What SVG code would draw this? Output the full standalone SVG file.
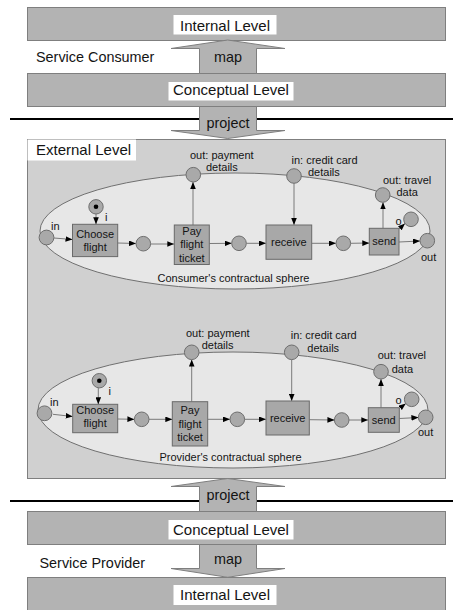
<svg xmlns="http://www.w3.org/2000/svg" width="453" height="610" viewBox="0 0 453 610">
  <style>
    text { font-family: "Liberation Sans", Arial, sans-serif; fill: #141414; }
    .bar { fill: #b3b3b3; stroke: #7f7f7f; stroke-width: 1; }
    .lbl { fill: #ffffff; stroke: none; }
    .big { font-size: 15px; text-anchor: middle; }
    .side { font-size: 14.4px; }
    .arr { fill: #b3b3b3; stroke: #7f7f7f; stroke-width: 1; }
    .arrtxt { font-size: 14.4px; text-anchor: middle; }
    .ext { fill: #d0d0d0; stroke: #7f7f7f; stroke-width: 1; }
    .sphere { fill: #e7e7e7; stroke: #707070; stroke-width: 1; }
    .place { fill: #a9a9a9; stroke: #6e6e6e; stroke-width: 1; }
    .trans { fill: #a8a8a8; stroke: #6a6a6a; stroke-width: 1; }
    .t { font-size: 11px; }
    .tc { font-size: 11px; text-anchor: middle; }
    .edge { stroke: #7a7a7a; stroke-width: 1; fill: none; marker-end: url(#head); }
  </style>
  <defs>
    <marker id="head" viewBox="0 0 10 8" refX="10" refY="4" markerWidth="7" markerHeight="5.6" markerUnits="userSpaceOnUse" orient="auto">
      <path d="M0,0 L10,4 L0,8 z" fill="#000"/>
    </marker>
  </defs>

  <rect width="453" height="610" fill="#ffffff"/>

  <!-- consumer side levels -->
  <g id="consumer-internal">
    <rect class="bar" x="27.5" y="7.5" width="418" height="33"/>
    <rect class="lbl" x="173.5" y="15" width="103" height="19.5"/>
    <text class="big" x="225" y="30.5">Internal Level</text>
  </g>
  <text class="side" x="36" y="62">Service Consumer</text>
  <g id="consumer-conceptual">
    <rect class="bar" x="27.5" y="73.5" width="418" height="33"/>
    <rect class="lbl" x="168.5" y="82" width="125" height="18.5"/>
    <text class="big" x="231" y="95">Conceptual Level</text>
  </g>

  <!-- provider side levels -->
  <g id="provider-conceptual">
    <rect class="bar" x="27.5" y="511.5" width="418" height="33"/>
    <rect class="lbl" x="168.5" y="520" width="125" height="19.5"/>
    <text class="big" x="231" y="534.5">Conceptual Level</text>
  </g>
  <text class="side" x="39.5" y="567.5">Service Provider</text>
  <g id="provider-internal">
    <rect class="bar" x="27.5" y="577.5" width="418" height="40"/>
    <rect class="lbl" x="173.5" y="585" width="103" height="20"/>
    <text class="big" x="225" y="600">Internal Level</text>
  </g>

  <!-- boundary lines -->
  <line x1="10" y1="119" x2="453" y2="119" stroke="#000" stroke-width="2"/>
  <line x1="10" y1="501" x2="453" y2="501" stroke="#000" stroke-width="2"/>

  <!-- external level -->
  <g id="external-level">
    <rect class="ext" x="27.5" y="139.5" width="418" height="339"/>
    <rect class="lbl" x="27.5" y="139.5" width="108.5" height="21"/>
    <text x="36" y="155" style="font-size:15px">External Level</text>
  </g>

  <!-- level transition arrows -->
  <g id="map-consumer">
    <polygon class="arr" points="199.5,73.5 199.5,48.5 171,48.5 227.7,40 285,48.5 256.5,48.5 256.5,73.5"/>
    <text class="arrtxt" x="228" y="62">map</text>
  </g>
  <g id="project-consumer">
    <polygon class="arr" points="199.5,106.5 199.5,130.5 171,130.5 227.7,138.5 285,130.5 256.5,130.5 256.5,106.5"/>
    <text class="arrtxt" x="228" y="127.5">project</text>
  </g>
  <g id="project-provider">
    <polygon class="arr" points="199.5,511.5 199.5,486.5 171,486.5 227.7,478.5 285,486.5 256.5,486.5 256.5,511.5"/>
    <text class="arrtxt" x="228" y="500">project</text>
  </g>
  <g id="map-provider">
    <polygon class="arr" points="199.5,544.5 199.5,568.5 171,568.5 227.7,577.3 285,568.5 256.5,568.5 256.5,544.5"/>
    <text class="arrtxt" x="228" y="564">map</text>
  </g>

  <!-- consumer's contractual sphere -->
  <g id="consumer-sphere">
    <ellipse class="sphere" cx="235" cy="231" rx="195" ry="58"/>
    <text class="tc" x="233.5" y="282">Consumer's contractual sphere</text>
  </g>

  <!-- provider's contractual sphere -->
  <g id="provider-sphere">
    <ellipse class="sphere" cx="233" cy="410" rx="195" ry="58"/>
    <text class="tc" x="230.5" y="461">Provider's contractual sphere</text>
  </g>

  <!-- connectors -->
  <g id="connectors">
    <!-- consumer net -->
    <line class="edge" x1="54" y1="238" x2="72.5" y2="239.5"/>
    <line class="edge" x1="96" y1="214" x2="96" y2="224.3"/>
    <line class="edge" x1="117.7" y1="243" x2="136" y2="243.5"/>
    <line class="edge" x1="150.6" y1="244" x2="174.3" y2="244"/>
    <line class="edge" x1="193" y1="225" x2="193" y2="182"/>
    <line class="edge" x1="209.3" y1="243.5" x2="231.7" y2="243.3"/>
    <line class="edge" x1="246.3" y1="243.3" x2="266" y2="243.3"/>
    <line class="edge" x1="294" y1="183.3" x2="294" y2="225"/>
    <line class="edge" x1="311.7" y1="243.3" x2="336" y2="243.3"/>
    <line class="edge" x1="350.6" y1="243.3" x2="369.3" y2="243"/>
    <line class="edge" x1="383" y1="228.3" x2="383" y2="202.3"/>
    <line class="edge" x1="399" y1="229" x2="405" y2="223.5"/>
    <line class="edge" x1="399" y1="242" x2="420" y2="241"/>
    <!-- provider net -->
    <line class="edge" x1="53" y1="414.3" x2="72.7" y2="416.5"/>
    <line class="edge" x1="98.3" y1="388" x2="98.3" y2="404.3"/>
    <line class="edge" x1="117.7" y1="419" x2="134.4" y2="419.3"/>
    <line class="edge" x1="149" y1="419.3" x2="172.3" y2="419.3"/>
    <line class="edge" x1="191.7" y1="401.7" x2="191.7" y2="359.6"/>
    <line class="edge" x1="207.7" y1="419.3" x2="230" y2="419.3"/>
    <line class="edge" x1="244.6" y1="419.3" x2="266" y2="419.3"/>
    <line class="edge" x1="291.7" y1="359.6" x2="291.7" y2="401"/>
    <line class="edge" x1="309.3" y1="419.7" x2="334.4" y2="420"/>
    <line class="edge" x1="349" y1="420" x2="368.3" y2="420"/>
    <line class="edge" x1="381" y1="407.7" x2="381" y2="379"/>
    <line class="edge" x1="399.3" y1="408.5" x2="405.8" y2="403.6"/>
    <line class="edge" x1="399.3" y1="418.5" x2="418.4" y2="417.5"/>
  </g>

  <!-- consumer places -->
  <g id="c-in"><circle class="place" cx="46.5" cy="237.5" r="7.4"/><text class="t" x="51" y="229.5">in</text></g>
  <g id="c-i"><circle class="place" cx="96" cy="206.8" r="7.2"/><circle cx="96" cy="206.8" r="2.3" fill="#000"/><text class="t" x="105" y="220.5">i</text></g>
  <g id="c-p1"><circle class="place" cx="143.3" cy="243.7" r="7.3"/></g>
  <g id="c-pay-out"><circle class="place" cx="193.3" cy="174.7" r="7.3"/><text class="t" x="190" y="159">out: payment</text><text class="t" x="206" y="171">details</text></g>
  <g id="c-p2"><circle class="place" cx="239" cy="243.3" r="7.3"/></g>
  <g id="c-card-in"><circle class="place" cx="294" cy="176" r="7.3"/><text class="t" x="291.5" y="163.5">in: credit card</text><text class="t" x="308" y="176">details</text></g>
  <g id="c-p3"><circle class="place" cx="343.3" cy="243.3" r="7.3"/></g>
  <g id="c-travel-out"><circle class="place" cx="382.7" cy="195" r="7.3"/><text class="t" x="383" y="183.5">out: travel</text><text class="t" x="396.5" y="196">data</text></g>
  <g id="c-o"><circle class="place" cx="411" cy="219.3" r="7.3"/><text class="t" x="395.5" y="225">o</text></g>
  <g id="c-out"><circle class="place" cx="427.3" cy="240.7" r="7.3"/><text class="t" x="421" y="261">out</text></g>

  <!-- consumer transitions -->
  <g id="c-choose"><rect class="trans" x="72.5" y="224.3" width="45.2" height="32.3"/><text class="tc" x="95.1" y="238">Choose</text><text class="tc" x="95.1" y="250.7">flight</text></g>
  <g id="c-pay"><rect class="trans" x="174.3" y="225" width="35" height="39.5"/><text class="tc" x="191.8" y="235">Pay</text><text class="tc" x="191.8" y="248.3">flight</text><text class="tc" x="191.8" y="261.5">ticket</text></g>
  <g id="c-receive"><rect class="trans" x="266" y="225" width="45.7" height="34.3"/><text class="tc" x="288.8" y="245.5">receive</text></g>
  <g id="c-send"><rect class="trans" x="369.3" y="228.3" width="29.7" height="26.7"/><text class="tc" x="384.2" y="244.5">send</text></g>

  <!-- provider places -->
  <g id="p-in"><circle class="place" cx="44.5" cy="413.3" r="7.4"/><text class="t" x="50" y="405.5">in</text></g>
  <g id="p-i"><circle class="place" cx="99.3" cy="380.7" r="7.2"/><circle cx="99.3" cy="380.7" r="2.3" fill="#000"/><text class="t" x="108.5" y="395">i</text></g>
  <g id="p-p1"><circle class="place" cx="141.7" cy="419.3" r="7.3"/></g>
  <g id="p-pay-out"><circle class="place" cx="191.7" cy="352.3" r="7.3"/><text class="t" x="186" y="337">out: payment</text><text class="t" x="201.7" y="349">details</text></g>
  <g id="p-p2"><circle class="place" cx="237.3" cy="419.3" r="7.3"/></g>
  <g id="p-card-in"><circle class="place" cx="291.7" cy="352.3" r="7.3"/><text class="t" x="290.7" y="339">in: credit card</text><text class="t" x="307.3" y="351.5">details</text></g>
  <g id="p-p3"><circle class="place" cx="341.7" cy="420" r="7.3"/></g>
  <g id="p-travel-out"><circle class="place" cx="381" cy="371.7" r="7.3"/><text class="t" x="377.7" y="359">out: travel</text><text class="t" x="391.7" y="372.5">data</text></g>
  <g id="p-o"><circle class="place" cx="411.7" cy="399.3" r="7.3"/><text class="t" x="395.5" y="404">o</text></g>
  <g id="p-out"><circle class="place" cx="425.7" cy="417.3" r="7.3"/><text class="t" x="418" y="436">out</text></g>

  <!-- provider transitions -->
  <g id="p-choose"><rect class="trans" x="72.7" y="404.3" width="45" height="28.4"/><text class="tc" x="95.2" y="414">Choose</text><text class="tc" x="95.2" y="427">flight</text></g>
  <g id="p-pay"><rect class="trans" x="172.3" y="401.7" width="35.4" height="44.3"/><text class="tc" x="190" y="414">Pay</text><text class="tc" x="190" y="427.5">flight</text><text class="tc" x="190" y="441">ticket</text></g>
  <g id="p-receive"><rect class="trans" x="266" y="401" width="43.3" height="34"/><text class="tc" x="287.7" y="421.5">receive</text></g>
  <g id="p-send"><rect class="trans" x="368.3" y="407.7" width="31" height="24.6"/><text class="tc" x="383.8" y="423.5">send</text></g>
</svg>
